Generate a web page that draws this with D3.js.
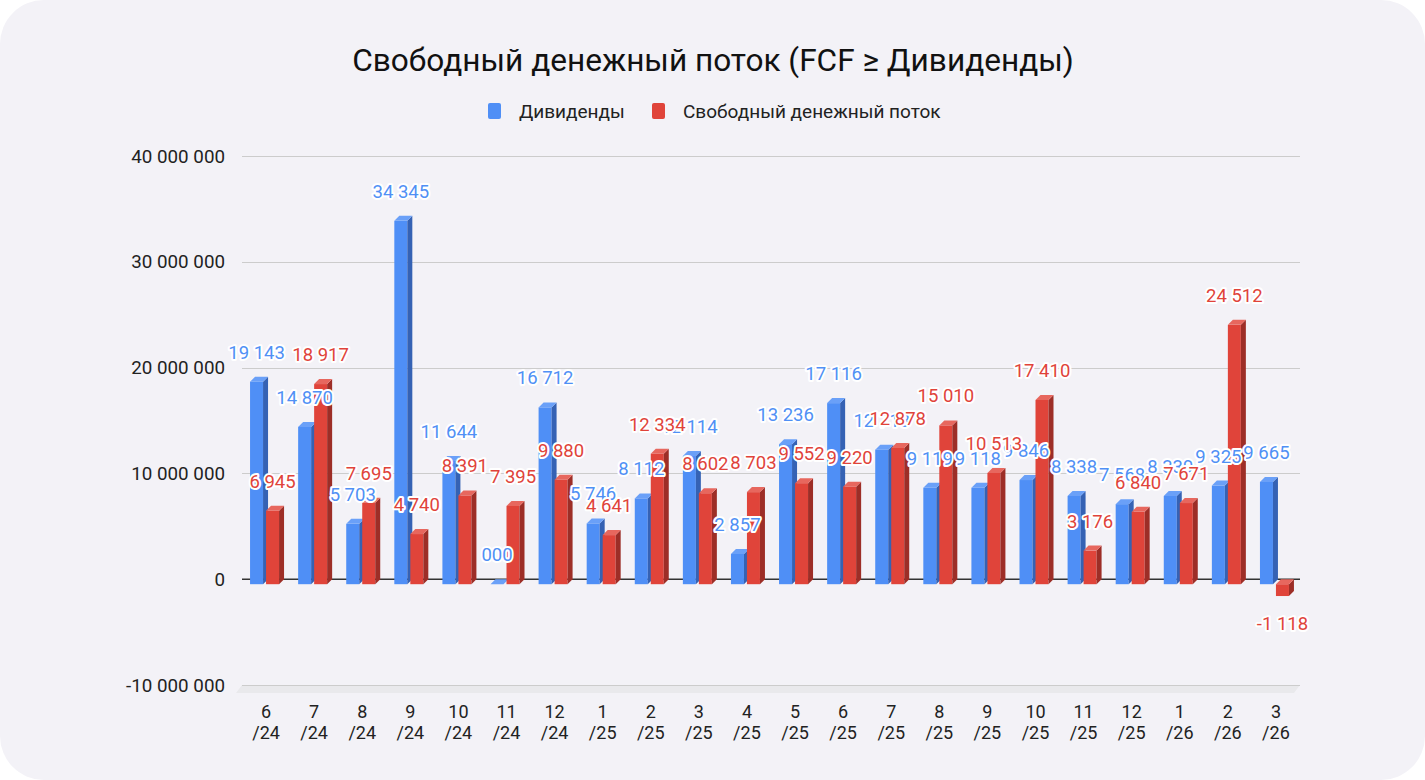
<!DOCTYPE html>
<html><head><meta charset="utf-8">
<script src="https://cdn.jsdelivr.net/npm/d3@7"></script>
<style>html,body{margin:0;padding:0;background:#fff;} svg{display:block;font-family:Roboto, "Noto Sans", sans-serif;}</style>
</head><body><svg id="c" width="1425" height="780"></svg>
<script>
const categories = ["6/24","7/24","8/24","9/24","10/24","11/24","12/24","1/25","2/25","3/25","4/25","5/25","6/25","7/25","8/25","9/25","10/25","11/25","12/25","1/26","2/26","3/26"];
// values in thousands
const dividends = [19143,14870,5703,34345,11644,0,16712,5746,8112,12114,2857,13236,17116,12718,9119,9118,9846,8338,7568,8339,9325,9665];
const fcf = [6945,18917,7695,4740,8391,7395,9880,4641,12334,8602,8703,9552,9220,12878,15010,10513,17410,3176,6840,7671,24512,-1118];
const yTicks = [-10000000,0,10000000,20000000,30000000,40000000];
const seriesNames = ["Дивиденды","Свободный денежный поток"];
const titleText = "Свободный денежный поток (FCF ≥ Дивиденды)";

const W=1425,H=780;
const svg=d3.select("#c");
svg.append("rect").attr("width",W).attr("height",H).attr("rx",44).attr("fill","#f3f2f7");

const plot={left:242,right:1300,top:156,bottom:685};
const x=d3.scaleBand().domain(categories).range([plot.left,plot.right]);
const y=d3.scaleLinear().domain([-10000000,40000000]).range([plot.bottom,plot.top]);
const locale=d3.formatLocale({decimal:",",thousands:" ",grouping:[3],currency:["",""],minus:"-"});
const fmt=locale.format(",d");
const labelFmt=v=> v===0 ? "000" : fmt(v);

// floor
svg.append("polygon")
  .attr("points",[[plot.left,plot.bottom],[plot.right,plot.bottom],[plot.right-6,plot.bottom+8],[plot.left-6,plot.bottom+8]].map(p=>p.join(",")).join(" "))
  .attr("fill","#e9e9ec");

// gridlines
svg.append("g").selectAll("line").data(yTicks.filter(t=>t!==0)).join("line")
  .attr("x1",plot.left).attr("x2",plot.right)
  .attr("y1",d=>Math.round(y(d))+0.5).attr("y2",d=>Math.round(y(d))+0.5)
  .attr("stroke","#cccccc").attr("stroke-width",1);

// y labels
svg.append("g").selectAll("text").data(yTicks).join("text")
  .attr("x",225).attr("y",d=>y(d)+6.5)
  .attr("text-anchor","end").attr("font-size",18.8).attr("fill","#222")
  .text(d=>fmt(d));

// zero line
svg.append("line").attr("x1",plot.left).attr("x2",plot.right)
  .attr("y1",y(0)).attr("y2",y(0)).attr("stroke","#333").attr("stroke-width",1.4);

// bars
const dx=5, dy=5, bw=13;
const offsets=[-16,0];
const colors=[
  {front:"#4f8ff6",side:"#3562b4",top:"#6aa0f8",label:"#5090f5"},
  {front:"#e0443a",side:"#9d2e27",top:"#e7675e",label:"#e0433a"}
];
const series=[dividends,fcf];
const barG=svg.append("g");
const geo=[[],[]];
categories.forEach((c,i)=>{
  series.forEach((s,si)=>{
    const v=s[i]*1000;
    const x0=x(c)+x.bandwidth()/2+offsets[si];
    const ft=Math.min(y(v),y(0))+dy;
    const fb=Math.max(y(v),y(0))+dy;
    const col=colors[si];
    const g=barG.append("g");
    g.append("rect").attr("x",x0).attr("y",ft).attr("width",bw).attr("height",fb-ft).attr("fill",col.front);
    g.append("polygon").attr("points",[[x0+bw,ft],[x0+bw+dx,ft-dy],[x0+bw+dx,fb-dy],[x0+bw,fb]].map(p=>p.join(",")).join(" ")).attr("fill",col.side);
    g.append("polygon").attr("points",[[x0,ft],[x0+dx,ft-dy],[x0+bw+dx,ft-dy],[x0+bw,ft]].map(p=>p.join(",")).join(" ")).attr("fill",col.top);
    geo[si].push({cx:x0+bw/2, ly: v<0 ? fb+34 : ft-23, text:labelFmt(s[i])});
  });
});

// labels
geo.forEach((arr,si)=>{
  svg.append("g").selectAll("text").data(arr).join("text")
    .attr("x",d=>d.cx).attr("y",d=>d.ly).attr("text-anchor","middle")
    .attr("font-size",18.5).attr("fill",colors[si].label)
    .attr("stroke","#fff").attr("stroke-width",4).attr("stroke-linejoin","round")
    .attr("paint-order","stroke")
    .text(d=>d.text);
});

// x labels
const xl=svg.append("g").selectAll("text").data(categories).join("text")
  .attr("text-anchor","middle").attr("font-size",18).attr("fill","#222");
xl.each(function(d){
  const parts=d.split("/");
  const cx=x(d)+x.bandwidth()/2;
  const t=d3.select(this);
  t.append("tspan").attr("x",cx).attr("y",718).text(parts[0]);
  t.append("tspan").attr("x",cx).attr("y",739).text("/"+parts[1]);
});

// title
svg.append("text").attr("x",713).attr("y",71).attr("text-anchor","middle")
  .attr("font-size",31.6).attr("fill","#111").text(titleText);

// legend
const legendX=[488,652];
seriesNames.forEach((n,i)=>{
  svg.append("rect").attr("x",legendX[i]).attr("y",103).attr("width",13).attr("height",16).attr("rx",2).attr("fill",colors[i].front);
  svg.append("text").attr("x",legendX[i]+31).attr("y",117.5).attr("font-size",19).attr("fill","#222").text(n);
});
</script></body></html>
